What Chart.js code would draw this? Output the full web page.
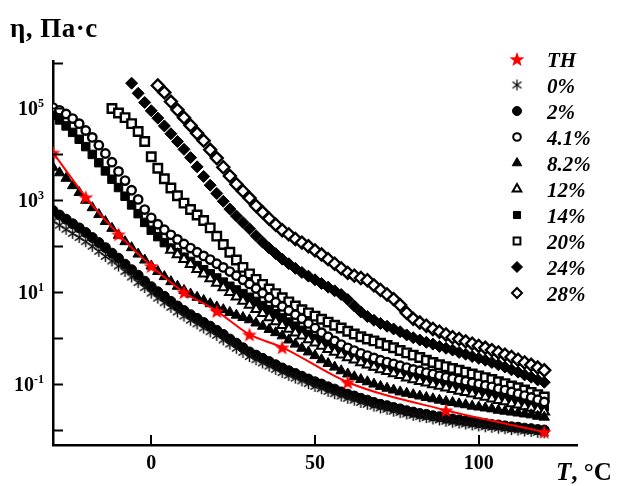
<!DOCTYPE html>
<html lang="ru">
<head>
<meta charset="UTF-8">
<title>Вязкость от температуры</title>
<script src="https://cdn.jsdelivr.net/npm/chart.js@4.4.1/dist/chart.umd.min.js"></script>
<style>
    html, body { margin: 0; padding: 0; background: #fff; }
    #wrap { position: relative; width: 621px; height: 486px; }
    #grafico { position: absolute; left: 0; top: 0; }
    .ttl {
        position: absolute;
        font-family: "Liberation Serif", "Times New Roman", serif;
        font-weight: bold;
        color: #000;
        white-space: nowrap;
        line-height: 1;
    }
    #yTitle { left: 10px; top: 15px; font-size: 27px; letter-spacing: 0.5px; }
    #xTitle { left: 556px; top: 459px; font-size: 25px; }
</style>
</head>
<body>
<div id="wrap">
    <canvas id="grafico" width="621" height="486"></canvas>
    <div class="ttl" id="yTitle">η, Па·с</div>
    <div class="ttl" id="xTitle"><i>T</i>, °C</div>
</div>

<script>
// temperature grid of the measured curves, °C
const T = [-30,-28,-26,-24,-22,-20,-18,-16,-14,-12,-10,-8,-6,-4,-2,0,2,4,6,8,
    10,12,14,16,18,20,22,24,26,28,30,32,34,36,38,40,42,44,46,48,
    50,52,54,56,58,60,62,64,66,68,70,72,74,76,78,80,82,84,86,88,
    90,92,94,96,98,100,102,104,106,108,110,112,114,116,118,120];

// log10(η, Па·с)
const lg0 = [2.55,2.46,2.37,2.28,2.19,2.10,2.00,1.89,1.78,1.68,
    1.57,1.45,1.33,1.21,1.10,0.98,0.87,0.77,0.67,0.57,
    0.48,0.39,0.31,0.22,0.14,0.06,-0.04,-0.13,-0.22,-0.31,
    -0.40,-0.47,-0.54,-0.61,-0.68,-0.75,-0.81,-0.87,-0.93,-0.99,
    -1.05,-1.10,-1.16,-1.21,-1.26,-1.31,-1.35,-1.40,-1.44,-1.48,
    -1.52,-1.55,-1.59,-1.62,-1.65,-1.68,-1.71,-1.73,-1.76,-1.78,
    -1.81,-1.83,-1.85,-1.87,-1.89,-1.91,-1.93,-1.94,-1.96,-1.97,
    -1.99,-2.00,-2.02,-2.03,-2.05,-2.06];
const lg2 = [2.78,2.68,2.59,2.49,2.40,2.30,2.19,2.08,1.97,1.85,
    1.74,1.61,1.49,1.37,1.24,1.12,1.01,0.91,0.80,0.70,
    0.60,0.51,0.43,0.34,0.26,0.17,0.08,-0.02,-0.11,-0.21,
    -0.30,-0.37,-0.44,-0.51,-0.58,-0.65,-0.71,-0.77,-0.83,-0.89,
    -0.95,-1.00,-1.06,-1.11,-1.17,-1.22,-1.26,-1.31,-1.35,-1.40,
    -1.44,-1.47,-1.51,-1.54,-1.58,-1.61,-1.64,-1.66,-1.69,-1.71,
    -1.74,-1.76,-1.78,-1.80,-1.82,-1.84,-1.86,-1.88,-1.89,-1.91,
    -1.93,-1.94,-1.96,-1.97,-1.99,-2.00];
const lg41 = [5.02,4.96,4.88,4.78,4.67,4.52,4.37,4.20,4.02,3.83,
    3.63,3.43,3.22,3.02,2.80,2.62,2.48,2.36,2.25,2.15,
    2.05,1.96,1.87,1.79,1.71,1.62,1.54,1.45,1.36,1.27,
    1.18,1.08,0.98,0.88,0.78,0.69,0.60,0.51,0.42,0.32,
    0.22,0.12,0.03,-0.06,-0.14,-0.21,-0.27,-0.33,-0.38,-0.43,
    -0.48,-0.52,-0.56,-0.60,-0.64,-0.68,-0.71,-0.75,-0.78,-0.82,
    -0.85,-0.88,-0.91,-0.94,-0.97,-1.00,-1.03,-1.06,-1.10,-1.13,
    -1.17,-1.21,-1.25,-1.29,-1.34,-1.39];
const lg82 = [3.72,3.60,3.48,3.32,3.17,3.00,2.84,2.69,2.54,2.39,
    2.24,2.10,1.97,1.83,1.70,1.57,1.45,1.34,1.23,1.13,
    1.04,0.96,0.89,0.82,0.75,0.68,0.62,0.56,0.50,0.45,
    0.40,0.33,0.26,0.19,0.12,0.05,-0.04,-0.13,-0.22,-0.30,
    -0.38,-0.47,-0.55,-0.63,-0.71,-0.78,-0.84,-0.90,-0.95,-1.00,
    -1.05,-1.09,-1.13,-1.17,-1.20,-1.23,-1.26,-1.29,-1.32,-1.35,
    -1.38,-1.40,-1.43,-1.45,-1.48,-1.50,-1.52,-1.54,-1.57,-1.59,
    -1.61,-1.63,-1.65,-1.67,-1.70,-1.72];
const lg12 = [1.92,1.82,1.72,1.61,1.50,1.40,1.30,1.20,1.10,1.00,
    0.90,0.81,0.72,0.63,0.54,0.45,0.36,0.28,0.20,0.12,
    0.05,-0.03,-0.10,-0.17,-0.24,-0.30,-0.36,-0.42,-0.47,-0.53,
    -0.58,-0.63,-0.68,-0.72,-0.77,-0.81,-0.86,-0.90,-0.94,-0.97,
    -1.01,-1.04,-1.08,-1.11,-1.15,-1.18,-1.21,-1.25,-1.28,-1.32,
    -1.35,-1.38,-1.42,-1.45,-1.49,-1.52,-1.56,-1.60];
const lg14 = [4.85,4.75,4.62,4.48,4.33,4.17,4.00,3.82,3.64,3.46,
    3.28,3.09,2.90,2.71,2.52,2.35,2.21,2.08,1.96,1.86,
    1.76,1.67,1.58,1.49,1.40,1.31,1.22,1.13,1.05,0.97,
    0.89,0.80,0.71,0.62,0.53,0.44,0.35,0.26,0.17,0.08,
    -0.01,-0.09,-0.17,-0.25,-0.32,-0.38,-0.44,-0.50,-0.55,-0.60,
    -0.65,-0.69,-0.73,-0.77,-0.81,-0.85,-0.88,-0.92,-0.95,-0.98,
    -1.01,-1.04,-1.07,-1.10,-1.13,-1.16,-1.19,-1.22,-1.25,-1.28,
    -1.31,-1.35,-1.38,-1.42,-1.45,-1.49];
const lg20 = [5.00,4.90,4.80,4.67,4.50,4.28,3.95,3.70,3.47,3.27,
    3.10,2.94,2.80,2.68,2.56,2.40,2.22,2.04,1.87,1.70,
    1.54,1.40,1.28,1.17,1.07,0.97,0.88,0.79,0.70,0.62,
    0.55,0.48,0.41,0.35,0.28,0.22,0.15,0.09,0.03,-0.02,
    -0.06,-0.11,-0.16,-0.21,-0.27,-0.32,-0.37,-0.42,-0.48,-0.53,
    -0.58,-0.62,-0.66,-0.70,-0.74,-0.78,-0.82,-0.86,-0.90,-0.95,
    -0.99,-1.04,-1.08,-1.13,-1.18,-1.23,-1.28];
const lg24 = [5.55,5.33,5.13,4.95,4.79,4.62,4.45,4.28,4.11,3.93,
    3.73,3.52,3.33,3.15,2.98,2.81,2.66,2.52,2.38,2.23,
    2.09,1.96,1.84,1.72,1.62,1.52,1.43,1.35,1.27,1.19,
    1.11,1.03,0.95,0.84,0.70,0.57,0.47,0.39,0.32,0.26,
    0.20,0.14,0.07,0.01,-0.04,-0.09,-0.13,-0.18,-0.22,-0.26,
    -0.31,-0.35,-0.40,-0.44,-0.48,-0.53,-0.58,-0.63,-0.69,-0.74,
    -0.80,-0.85,-0.91,-0.96];
const lg28 = [5.50,5.35,5.15,4.97,4.80,4.63,4.46,4.30,4.10,3.92,
    3.72,3.53,3.35,3.20,3.05,2.88,2.74,2.60,2.47,2.35,
    2.26,2.16,2.08,2.00,1.91,1.82,1.72,1.62,1.52,1.42,
    1.36,1.31,1.26,1.15,1.05,0.95,0.85,0.72,0.55,0.42,
    0.34,0.27,0.20,0.14,0.08,0.02,-0.02,-0.07,-0.12,-0.17,
    -0.21,-0.26,-0.31,-0.36,-0.41,-0.47,-0.53,-0.58,-0.64,-0.70];

// TH curve (red stars + line)
const thT  = [-30, -20, -10, 0, 10, 20, 30, 40, 60, 90, 120];
const thLg = [4.04, 3.07, 2.26, 1.57, 1.00, 0.59, 0.08, -0.20, -0.96, -1.57, -2.04];

const rotulos = ['TH', '0%', '2%', '4.1%', '8.2%', '12%', '14%', '20%', '24%', '28%'];

// axes
const xMin = -30, xMax = 130;
const yMin = 0.00472, yMax = 1.08e6;
const xTicks = [0, 50, 100];
const yTickExp = [-2, -1, 0, 1, 2, 3, 4, 5, 6];
const yLabelExp = [-1, 1, 3, 5];

const FONTE = '"Liberation Serif", "Times New Roman", serif';

function pontos(tIni, lg) {
    const i0 = T.indexOf(tIni);
    return lg.map((v, i) => ({ x: T[i0 + i], y: Math.pow(10, v) }));
}

function criarEstrela(r) {
    const s = Math.ceil(r * 2 + 2);
    const c = document.createElement('canvas');
    c.width = s; c.height = s;
    const g = c.getContext('2d');
    g.fillStyle = '#ff0000';
    g.beginPath();
    for (let k = 0; k < 10; k++) {
        const rr = k % 2 ? r * 0.42 : r;
        const a = -Math.PI / 2 + k * Math.PI / 5;
        const px = s / 2 + rr * Math.cos(a);
        const py = s / 2 + rr * Math.sin(a) + 0.8;
        if (k === 0) g.moveTo(px, py); else g.lineTo(px, py);
    }
    g.closePath();
    g.fill();
    return c;
}

function criarAsterisco(r, cor, lw) {
    const s = Math.ceil(r * 2 + 2);
    const c = document.createElement('canvas');
    c.width = s; c.height = s;
    const g = c.getContext('2d');
    g.strokeStyle = cor;
    g.lineWidth = lw;
    const m = s / 2;
    [90, 35, 145].forEach(deg => {
        const a = deg * Math.PI / 180;
        g.beginPath();
        g.moveTo(m - r * Math.cos(a), m - r * Math.sin(a));
        g.lineTo(m + r * Math.cos(a), m + r * Math.sin(a));
        g.stroke();
    });
    return c;
}

const estrela = criarEstrela(7.8);
const asterisco = criarAsterisco(5.5, '#111', 1.5);
const asteriscoLeg = criarAsterisco(5.5, '#000', 1.2);

const cheio = { backgroundColor: '#000', borderColor: '#000', pointBorderWidth: 1 };
const vazio = { backgroundColor: '#fff', borderColor: '#000', pointBorderWidth: 2.4 };

const datasets = [
    { label: 'TH', data: thT.map((t, i) => ({ x: t, y: Math.pow(10, thLg[i]) })),
      showLine: true, borderColor: '#ff0000', borderWidth: 2, cubicInterpolationMode: 'monotone',
      pointStyle: estrela, pointRadius: 7, backgroundColor: '#ff0000' },
    { label: '0%', data: pontos(-30, lg0), pointStyle: asterisco, pointRadius: 5, borderColor: '#111' },
    { label: '2%', data: pontos(-30, lg2), pointStyle: 'circle', pointRadius: 5, ...cheio },
    { label: '4.1%', data: pontos(-30, lg41), pointStyle: 'circle', pointRadius: 4.2, ...vazio },
    { label: '8.2%', data: pontos(-30, lg82), pointStyle: 'triangle', pointRadius: 6, ...cheio },
    { label: '12%', data: pontos(6, lg12), pointStyle: 'triangle', pointRadius: 5.5, ...vazio, pointBorderWidth: 2 },
    { label: '14%', data: pontos(-30, lg14), pointStyle: 'rect', pointRadius: 6, ...cheio },
    { label: '20%', data: pontos(-12, lg20), pointStyle: 'rect', pointRadius: 6, ...vazio },
    { label: '24%', data: pontos(-6, lg24), pointStyle: 'rectRot', pointRadius: 6, ...cheio },
    { label: '28%', data: pontos(2, lg28), pointStyle: 'rectRot', pointRadius: 6, ...vazio }
];
datasets.forEach(d => {
    d.clip = 0;
    if (!d.showLine) d.showLine = false;
    d.pointBackgroundColor = d.backgroundColor;
    d.pointBorderColor = d.borderColor;
});

// legend marker styles (same order as rotulos)
const legendaMarcas = [
    { pointStyle: estrela, radius: 7 },
    { pointStyle: asteriscoLeg, radius: 5 },
    { pointStyle: 'circle', radius: 4.5, fill: '#000', borderWidth: 1 },
    { pointStyle: 'circle', radius: 3.8, fill: '#fff', borderWidth: 2 },
    { pointStyle: 'triangle', radius: 5.5, fill: '#000', borderWidth: 1 },
    { pointStyle: 'triangle', radius: 5, fill: '#fff', borderWidth: 2 },
    { pointStyle: 'rect', radius: 5, fill: '#000', borderWidth: 1 },
    { pointStyle: 'rect', radius: 4.8, fill: '#fff', borderWidth: 2 },
    { pointStyle: 'rectRot', radius: 5.5, fill: '#000', borderWidth: 1 },
    { pointStyle: 'rectRot', radius: 5, fill: '#fff', borderWidth: 2 }
];

const eixosPlugin = {
    id: 'eixos',
    afterDraw(chart) {
        const ctx = chart.ctx;
        const area = chart.chartArea;
        const sx = chart.scales.x;
        const sy = chart.scales.y;
        ctx.save();

        // inward tick marks
        ctx.strokeStyle = '#000';
        ctx.lineWidth = 2;
        yTickExp.forEach(e => {
            const py = Math.round(sy.getPixelForValue(Math.pow(10, e))) + 0.5;
            ctx.beginPath();
            ctx.moveTo(area.left, py);
            ctx.lineTo(area.left + 10, py);
            ctx.stroke();
        });
        xTicks.forEach(v => {
            const px = Math.round(sx.getPixelForValue(v));
            ctx.beginPath();
            ctx.moveTo(px, area.bottom);
            ctx.lineTo(px, area.bottom - 10);
            ctx.stroke();
        });

        // tick labels
        ctx.fillStyle = '#000';
        ctx.textBaseline = 'alphabetic';
        yLabelExp.forEach(e => {
            const py = sy.getPixelForValue(Math.pow(10, e));
            const sup = String(e);
            ctx.font = 'bold 12px ' + FONTE;
            const wSup = ctx.measureText(sup).width;
            ctx.textAlign = 'left';
            ctx.fillText(sup, 44 - wSup, py - 1);
            ctx.font = 'bold 20px ' + FONTE;
            ctx.textAlign = 'right';
            ctx.fillText('10', 44 - wSup, py + 7);
        });
        ctx.font = 'bold 20px ' + FONTE;
        ctx.textAlign = 'center';
        xTicks.forEach(v => {
            ctx.fillText(String(v), sx.getPixelForValue(v), 469);
        });

        // legend
        rotulos.forEach((txt, i) => {
            const y = 59 + i * 26;
            const m = legendaMarcas[i];
            ctx.fillStyle = m.fill || '#000';
            ctx.strokeStyle = '#000';
            ctx.lineWidth = m.borderWidth || 1;
            Chart.helpers.drawPoint(ctx, {
                pointStyle: m.pointStyle, radius: m.radius, rotation: 0, borderWidth: m.borderWidth || 0
            }, 517, y);
            ctx.fillStyle = '#000';
            ctx.font = 'italic bold 21px ' + FONTE;
            ctx.textAlign = 'left';
            ctx.fillText(txt, 547, y + 8);
        });
        ctx.restore();
    }
};

new Chart(document.getElementById('grafico').getContext('2d'), {
    type: 'scatter',
    data: { datasets: datasets },
    options: {
        responsive: false,
        animation: false,
        devicePixelRatio: 1,
        layout: { padding: { left: 53, right: 44, top: 61, bottom: 41 } },
        plugins: { legend: { display: false }, tooltip: { enabled: false } },
        scales: {
            x: {
                type: 'linear', min: xMin, max: xMax,
                grid: { display: false, drawTicks: false },
                ticks: { display: false },
                border: { display: true, color: '#000', width: 2.5 }
            },
            y: {
                type: 'logarithmic', min: yMin, max: yMax,
                grid: { display: false, drawTicks: false },
                ticks: { display: false },
                border: { display: true, color: '#000', width: 2.5 }
            }
        }
    },
    plugins: [eixosPlugin]
});
</script>
</body>
</html>
